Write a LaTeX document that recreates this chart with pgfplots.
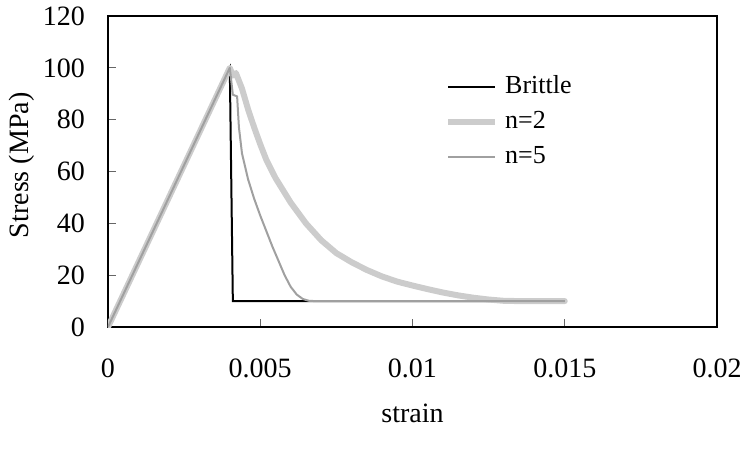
\documentclass[border=0pt]{standalone}
\usepackage{pgfplots}
\pgfplotsset{compat=1.18}
\usepackage{fontspec}
\setmainfont{Liberation Serif}
\definecolor{ntwo}{HTML}{CCCCCC}
\definecolor{nfive}{HTML}{A0A0A0}
\begin{document}
\begin{tikzpicture}[font=\fontsize{28}{33}\selectfont]
\useasboundingbox (-108pt,-123pt) rectangle (637pt,327pt);
\begin{axis}[
  scale only axis,
  width=609pt, height=311pt,
  xmin=0, xmax=0.02, ymin=0, ymax=120,
  xtick={0,0.005,0.01,0.015,0.02},
  xticklabels={0,0.005,0.01,0.015,0.02},
  scaled x ticks=false,
  ytick={0,20,40,60,80,100,120},
  /pgf/number format/assume math mode=true,
  tick align=inside,
  xtick pos=bottom, ytick pos=left,
  major tick length=8pt,
  tick style={line width=0.8pt, color=black!60},
  axis line style={line width=1.6pt},
  xticklabel style={inner sep=0pt, anchor=north, yshift=-32pt},
  yticklabel style={inner sep=0pt, anchor=east, xshift=-23pt},
  xlabel={strain},
  ylabel={Stress (MPa)},
  xlabel style={at={(axis description cs:0.5,-0.2765)}, anchor=center},
  ylabel style={at={(axis description cs:-0.141,0.52)}, anchor=center},
  legend cell align=left,
  legend style={draw=none, fill=none, at={(axis description cs:0.5534,0.81)}, anchor=north west,
    inner sep=0pt, row sep=11pt, font=\fontsize{26}{31}\selectfont,
    nodes={inner sep=0pt, text height=18pt, text depth=6pt},
    /tikz/every odd column/.style={column sep=7pt}},
  legend image code/.code={\draw[#1, line cap=butt] (0pt,0pt) -- (47pt,0pt);},
]
\addplot[black, line width=2pt] coordinates {
 (0,0) (0.004,100) (0.0041,10) (0.015,10)};
\addlegendentry{Brittle}
\addplot[ntwo, line width=6pt, line join=round, line cap=round] coordinates {
 (0,0) (0.004,100) (0.0041,97) (0.0042,98) (0.0044,92) (0.0046,84) (0.0048,77)
 (0.005,70.5) (0.0052,64.5) (0.0055,57.5) (0.006,48) (0.0065,40) (0.007,33.5)
 (0.0075,28.5) (0.008,25) (0.0085,22) (0.009,19.5) (0.0095,17.5) (0.01,16)
 (0.0105,14.6) (0.011,13.3) (0.0115,12.2) (0.012,11.3) (0.0125,10.6)
 (0.013,10.1) (0.0135,10) (0.015,10)};
\addlegendentry{n=2}
\addplot[nfive, line width=2pt, line join=round] coordinates {
 (0,0) (0.004,100) (0.0041,89.6) (0.00424,89) (0.0043,77) (0.0044,67)
 (0.0046,57) (0.0048,49.5) (0.005,43) (0.0052,37) (0.0054,31) (0.0056,25.5)
 (0.0058,20) (0.006,15.5) (0.0062,12.5) (0.0064,10.8) (0.0066,10.1)
 (0.0068,10) (0.015,10)};
\addlegendentry{n=5}
\end{axis}
\end{tikzpicture}
\end{document}
